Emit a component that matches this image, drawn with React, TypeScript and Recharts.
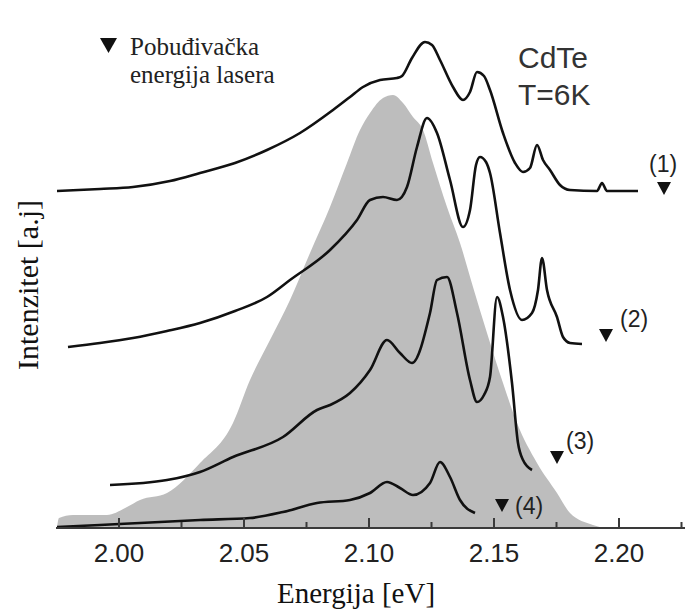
import React from "react";
import { ComposedChart, Line, Area, Scatter, XAxis, YAxis } from "recharts";

// gray reference band (excitation spectrum), energy in eV / intensity in a.u.
const grayE = [1.9752, 1.976, 1.9816, 1.9952, 2.0032, 2.0084, 2.0192, 2.0324, 2.0456, 2.0524, 2.0604, 2.0684, 2.0764, 2.0844, 2.0912, 2.0964, 2.1004, 2.1056, 2.1096, 2.1136, 2.1176, 2.1216, 2.1256, 2.1312, 2.1364, 2.1416, 2.1472, 2.1536, 2.1592, 2.1672, 2.1752, 2.1804, 2.1896, 2.1936];
const grayI = [0, 10, 13, 13, 21, 28, 35, 65, 105, 148, 188, 228, 275, 321, 365, 398, 415, 430, 433, 425, 411, 398, 365, 321, 285, 241, 195, 145, 105, 65, 35, 15, 3, 0];

// spectrum (1)
const spec1E = [1.9752, 1.9924, 2.0056, 2.0204, 2.0324, 2.0464, 2.0592, 2.0724, 2.0856, 2.0924, 2.0976, 2.1044, 2.1112, 2.1132, 2.1172, 2.1224, 2.1252, 2.1284, 2.1336, 2.1376, 2.1404, 2.1432, 2.146, 2.1484, 2.1536, 2.1584, 2.1616, 2.1644, 2.1672, 2.1696, 2.1724, 2.1764, 2.1804, 2.1912, 2.1932, 2.1952, 2.2076];
const spec1I = [337, 339, 341, 347, 355, 365, 378, 395, 418, 431, 441, 448, 450, 452, 470, 486, 483, 468, 441, 428, 436, 456, 452, 438, 395, 365, 356, 360, 383, 368, 358, 343, 338, 337, 345, 337, 337];

// spectrum (2)
const spec2E = [1.9796, 1.9924, 2.0056, 2.0192, 2.0324, 2.0464, 2.0592, 2.0684, 2.0844, 2.0952, 2.1004, 2.1056, 2.1112, 2.1152, 2.1192, 2.1232, 2.1272, 2.1324, 2.1376, 2.1404, 2.1428, 2.1444, 2.1468, 2.1484, 2.1524, 2.1564, 2.1612, 2.1652, 2.1676, 2.1692, 2.1712, 2.1752, 2.1776, 2.1804, 2.1852];
const spec2I = [181, 185, 190, 197, 205, 217, 231, 248, 278, 308, 328, 331, 328, 341, 381, 410, 395, 348, 301, 318, 363, 371, 366, 355, 295, 238, 208, 215, 238, 270, 238, 211, 191, 185, 184];

// spectrum (3)
const spec3E = [1.9964, 2.0192, 2.0324, 2.0456, 2.0656, 2.0792, 2.0844, 2.0924, 2.1004, 2.1072, 2.1124, 2.1172, 2.1244, 2.1272, 2.1312, 2.1352, 2.1404, 2.1432, 2.146, 2.1484, 2.1512, 2.1536, 2.1572, 2.1596, 2.1616, 2.1652];
const spec3I = [43, 48, 56, 71, 91, 118, 123, 135, 158, 188, 175, 165, 215, 248, 251, 215, 148, 126, 133, 151, 231, 211, 145, 85, 68, 58];

// spectrum (4)
const spec4E = [1.9752, 1.9924, 2.0084, 2.0324, 2.0524, 2.0656, 2.0792, 2.0924, 2.1004, 2.1072, 2.1124, 2.1176, 2.1244, 2.1284, 2.1324, 2.1364, 2.1424];
const spec4I = [1, 3, 5, 8, 10, 16, 25, 28, 35, 46, 40, 33, 45, 66, 51, 28, 15];

// laser excitation energies (markers)
const laserE = [2.218, 2.1948, 2.1752, 2.1532];
const laserI = [340, 193, 71, 23];
const laserLabels = ["(1)", "(2)", "(3)", "(4)"];

const xTicks = [2.0, 2.025, 2.05, 2.075, 2.1, 2.125, 2.15, 2.175, 2.2, 2.225];
const majorTicks = ["2.00", "2.05", "2.10", "2.15", "2.20"];

const zip = (e: number[], v: number[]) => e.map((x, k) => ({ e: x, v: v[k] }));

const grayData = zip(grayE, grayI);
const lines = [zip(spec1E, spec1I), zip(spec2E, spec2I), zip(spec3E, spec3I), zip(spec4E, spec4I)];
const laserData = laserE.map((x, k) => ({ e: x, v: laserI[k], label: laserLabels[k], k }));

const labelOffset = [
    [-15, -16],
    [14, -8],
    [9, -8],
    [13, 9],
];

const frame = { stroke: "#3a3a3a", strokeWidth: 2 };
const SANS = "'Liberation Sans', Arial, sans-serif";
const SERIF = "'Liberation Serif', 'Times New Roman', serif";

function EnergyTick(props: any) {
    const { x, y, payload } = props;
    const val = Number(payload.value);
    const label = majorTicks.find((t) => Math.abs(Number(t) - val) < 1e-6);
    return (
        <g>
            <line x1={x} x2={x} y1={y} y2={y - (label ? 10 : 6)} stroke="#3a3a3a" strokeWidth={2} />
            {label && (
                <text x={x} y={y + 34} textAnchor="middle" fontFamily={SANS} fontSize={26} fill="#222">
                    {label}
                </text>
            )}
        </g>
    );
}

function LaserMark(props: any) {
    const { cx, cy, payload } = props;
    if (cx == null || cy == null) return <g />;
    const [dx, dy] = labelOffset[payload.k];
    return (
        <g>
            <path d={`M${cx - 7},${cy - 6}L${cx + 7},${cy - 6}L${cx},${cy + 7}Z`} fill="#111" />
            <text x={cx + dx} y={cy + dy} fontFamily={SANS} fontSize={23} fill="#222">
                {payload.label}
            </text>
        </g>
    );
}

export default function App() {
    return (
        <div style={{ position: "absolute", left: 0, top: 0, width: 685, height: 609, background: "#fff" }}>
            <ComposedChart
                width={685}
                height={609}
                data={grayData}
                margin={{ top: 14, right: 0, bottom: 41, left: 56 }}
            >
                <XAxis
                    xAxisId="b"
                    type="number"
                    dataKey="e"
                    domain={[1.9748, 2.2264]}
                    allowDataOverflow
                    ticks={xTicks}
                    interval={0}
                    tick={<EnergyTick />}
                    tickLine={false}
                    tickSize={0}
                    tickMargin={0}
                    height={40}
                    axisLine={frame}
                />
                <XAxis
                    xAxisId="t"
                    orientation="top"
                    type="number"
                    dataKey="e"
                    domain={[1.9748, 2.2264]}
                    allowDataOverflow
                    height={0}
                    tick={false}
                    tickLine={false}
                    axisLine={frame}
                />
                <YAxis type="number" domain={[0, 514]} allowDataOverflow width={0} tick={false} tickLine={false} axisLine={frame} />
                <Area
                    xAxisId="b"
                    type="monotone"
                    dataKey="v"
                    stroke="none"
                    fill="#bdbdbd"
                    fillOpacity={1}
                    isAnimationActive={false}
                />
                {lines.map((d, k) => (
                    <Line
                        key={k}
                        xAxisId="b"
                        data={d}
                        type="monotone"
                        dataKey="v"
                        stroke="#111"
                        strokeWidth={2.6}
                        dot={false}
                        isAnimationActive={false}
                    />
                ))}
                <Scatter xAxisId="b" data={laserData} dataKey="v" shape={<LaserMark />} isAnimationActive={false} />
            </ComposedChart>
            <svg
                width={685}
                height={609}
                style={{ position: "absolute", left: 0, top: 0, pointerEvents: "none" }}
            >
                <path d="M100,38L117,38L108.5,53Z" fill="#111" />
                <text x={130} y={55} fontFamily={SERIF} fontSize={25} fill="#222">
                    Pobuđivačka
                </text>
                <text x={130} y={83} fontFamily={SERIF} fontSize={25} fill="#222">
                    energija lasera
                </text>
                <text x={518} y={68} fontFamily={SANS} fontSize={30} fill="#333">
                    CdTe
                </text>
                <text x={518} y={105} fontFamily={SANS} fontSize={30} fill="#333">
                    T=6K
                </text>
                <text x={277} y={603} fontFamily={SERIF} fontSize={29} fill="#111">
                    Energija [eV]
                </text>
                <text
                    x={0}
                    y={0}
                    transform="translate(38,285) rotate(-90)"
                    textAnchor="middle"
                    fontFamily={SERIF}
                    fontSize={30}
                    fill="#111"
                >
                    Intenzitet [a.j]
                </text>
            </svg>
        </div>
    );
}
